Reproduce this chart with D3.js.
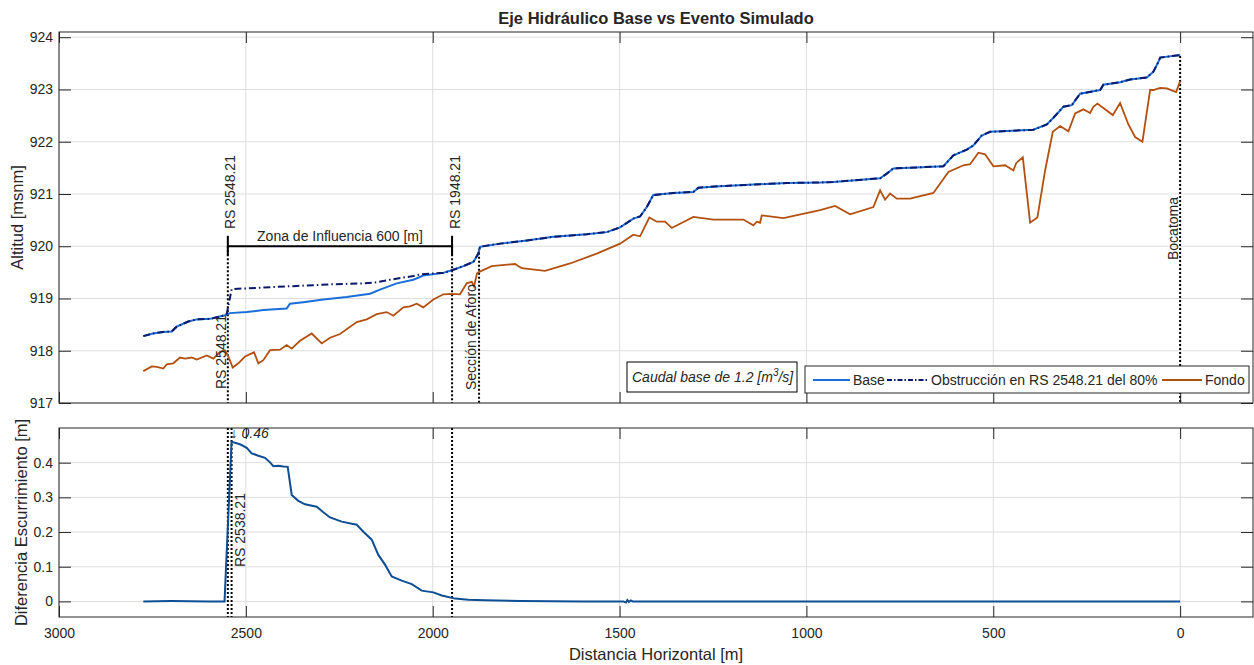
<!DOCTYPE html>
<html><head><meta charset="utf-8">
<script src="https://cdn.jsdelivr.net/npm/d3@7"></script>
<style>
body{margin:0;background:#fff}
svg{display:block}
text{font-family:"Liberation Sans",Arial,sans-serif;fill:#262626}
</style>
</head><body>
<svg id="c" width="1254" height="665"></svg>
<script>
// ---------- DATA ----------
const xTicks = [3000, 2500, 2000, 1500, 1000, 500, 0];
const yTopTicks = [917, 918, 919, 920, 921, 922, 923, 924];
const yBotTicks = [0, 0.1, 0.2, 0.3, 0.4];

const baseDist = [2774.4, 2748.5, 2721.7, 2698.4, 2685.0, 2654.0, 2631.5, 2595.9, 2578.0, 2555.8,
  2542.4, 2497.7, 2453.3, 2390.7, 2381.8, 2346.2, 2292.7, 2230.1, 2167.7, 2141.0,
  2096.3, 2051.8, 2025.1, 1971.5, 1944.8, 1918.0, 1891.3, 1877.9, 1873.3, 1819.8,
  1748.4, 1677.2, 1587.8, 1534.3, 1498.7, 1463.1, 1445.1, 1427.2, 1409.6, 1356.0,
  1302.5, 1289.1, 1231.1, 1141.9, 1052.6, 963.4, 927.8, 802.9, 785.0, 767.3,
  633.5, 606.7, 570.8, 553.2, 530.7, 508.5, 392.6, 356.7, 339.1, 312.3,
  289.8, 267.6, 214.1, 205.3, 160.6, 133.8, 89.1, 71.5, 58.1, 53.5, 0];
const baseVal = [918.28, 918.33, 918.36, 918.37, 918.46, 918.56, 918.60, 918.61, 918.64, 918.68,
  918.72, 918.74, 918.78, 918.81, 918.90, 918.93, 918.98, 919.03, 919.09, 919.17,
  919.29, 919.36, 919.44, 919.49, 919.55, 919.62, 919.70, 919.86, 919.99, 920.05,
  920.11, 920.18, 920.23, 920.27, 920.36, 920.53, 920.57, 920.75, 920.98, 921.02,
  921.04, 921.12, 921.15, 921.18, 921.21, 921.22, 921.23, 921.30, 921.39, 921.49,
  921.53, 921.74, 921.85, 921.93, 922.12, 922.19, 922.23, 922.33, 922.46, 922.67,
  922.70, 922.92, 922.99, 923.09, 923.14, 923.19, 923.23, 923.34, 923.53, 923.61, 923.66];

const obsDist = [2774.4, 2748.5, 2721.7, 2698.4, 2685.0, 2654.0, 2631.5, 2595.9, 2578.0, 2555.8,
  2551.0, 2537.8, 2453.3, 2363.9, 2274.8, 2185.6, 2149.8, 2114.2, 2051.8, 2033.9,
  1980.4, 1971.5, 1944.8, 1918.0, 1891.3, 1877.9, 1873.3, 1819.8,
  1748.4, 1677.2, 1587.8, 1534.3, 1498.7, 1463.1, 1445.1, 1427.2, 1409.6, 1356.0,
  1302.5, 1289.1, 1231.1, 1141.9, 1052.6, 963.4, 927.8, 802.9, 785.0, 767.3,
  633.5, 606.7, 570.8, 553.2, 530.7, 508.5, 392.6, 356.7, 339.1, 312.3,
  289.8, 267.6, 214.1, 205.3, 160.6, 133.8, 89.1, 71.5, 58.1, 53.5, 0];
const obsVal = [918.28, 918.33, 918.36, 918.37, 918.46, 918.56, 918.60, 918.61, 918.64, 918.68,
  918.71, 919.18, 919.21, 919.24, 919.27, 919.29, 919.31, 919.36, 919.43, 919.46,
  919.49, 919.49, 919.55, 919.62, 919.70, 919.86, 919.99, 920.05,
  920.11, 920.18, 920.23, 920.27, 920.36, 920.53, 920.57, 920.75, 920.98, 921.02,
  921.04, 921.12, 921.15, 921.18, 921.21, 921.22, 921.23, 921.30, 921.39, 921.49,
  921.53, 921.74, 921.85, 921.93, 922.12, 922.19, 922.23, 922.33, 922.46, 922.67,
  922.70, 922.92, 922.99, 923.09, 923.14, 923.19, 923.23, 923.34, 923.53, 923.61, 923.66];

const fondoDist = [2774.4, 2751.9, 2738.6, 2720.9, 2711.8, 2694.1, 2676.2, 2662.8, 2644.9, 2631.5,
  2604.7, 2587.0, 2569.2, 2555.8, 2546.9, 2535.2, 2520.2, 2502.2, 2478.2, 2466.6,
  2453.3, 2435.3, 2408.6, 2390.7, 2377.3, 2355.1, 2323.7, 2297.0, 2274.8, 2248.0,
  2203.3, 2176.6, 2149.8, 2123.0, 2105.3, 2078.6, 2060.7, 2042.8, 2025.1, 1998.3,
  1971.5, 1949.1, 1926.9, 1909.0, 1895.6, 1889.4, 1881.4, 1875.2, 1842.1, 1779.7,
  1761.8, 1699.4, 1632.5, 1561.0, 1498.7, 1463.1, 1445.1, 1420.3, 1400.5, 1378.2,
  1360.3, 1302.5, 1249.0, 1168.7, 1141.9, 1132.8, 1124.0, 1119.5, 1061.6, 963.4,
  923.3, 883.1, 820.8, 802.9, 789.5, 776.1, 758.2, 722.6, 660.2, 620.1,
  579.9, 562.0, 539.8, 521.9, 499.6, 468.3, 446.1, 438.9, 421.0, 401.4,
  381.9, 361.3, 340.7, 321.1, 298.9, 281.0, 258.8, 240.9, 232.0, 221.3,
  180.1, 160.6, 138.4, 120.4, 100.9, 80.3, 71.5, 53.5, 35.6, 10.7, 0];
const fondoVal = [917.61, 917.70, 917.69, 917.66, 917.74, 917.76, 917.87, 917.85, 917.87, 917.83,
  917.91, 917.85, 917.98, 918.01, 917.89, 917.68, 917.76, 917.89, 917.97, 917.76,
  917.82, 918.01, 918.02, 918.11, 918.04, 918.19, 918.33, 918.14, 918.25, 918.32,
  918.55, 918.60, 918.70, 918.74, 918.67, 918.83, 918.85, 918.90, 918.83, 918.98,
  919.08, 919.09, 919.08, 919.29, 919.32, 919.23, 919.48, 919.51, 919.62, 919.66,
  919.58, 919.53, 919.67, 919.86, 920.05, 920.22, 920.19, 920.55, 920.47, 920.47,
  920.35, 920.56, 920.51, 920.51, 920.40, 920.47, 920.45, 920.59, 920.54, 920.69,
  920.77, 920.61, 920.75, 921.07, 920.89, 921.01, 920.91, 920.91, 921.02, 921.42,
  921.55, 921.57, 921.79, 921.76, 921.53, 921.55, 921.45, 921.59, 921.70, 920.45,
  920.55, 921.45, 922.19, 922.30, 922.20, 922.54, 922.62, 922.55, 922.67, 922.73,
  922.51, 922.74, 922.33, 922.09, 922.00, 922.99, 922.99, 923.03, 923.02, 922.95, 923.16];

const diffDist = [2774.4, 2700, 2600, 2557.0, 2538.2, 2515.6, 2497.7, 2484.3, 2466.6, 2448.7,
  2435.3, 2426.5, 2413.1, 2399.8, 2388.0, 2377.3, 2359.6, 2341.7, 2310.4, 2292.7,
  2274.8, 2243.4, 2203.3, 2185.6, 2163.2, 2145.5, 2127.6, 2109.7, 2082.9, 2056.1,
  2029.4, 1998.3, 1975.8, 1940.2, 1904.6, 1860.0, 1766, 1600, 1490, 1483,
  1479, 1475, 1470, 1465, 1200, 800, 400, 0];
const diffVal = [0, 0.001, 0, 0, 0.46, 0.453, 0.443, 0.427, 0.420, 0.414,
  0.401, 0.390, 0.391, 0.389, 0.388, 0.307, 0.290, 0.280, 0.273, 0.257,
  0.242, 0.230, 0.221, 0.201, 0.178, 0.134, 0.106, 0.072, 0.060, 0.050,
  0.031, 0.026, 0.017, 0.008, 0.005, 0.003, 0.001, 0, 0, -0.003,
  0.004, -0.002, 0.003, 0, 0, 0, 0, 0];

// vertical markers in top plot: distance, upper elevation, label
const topMarkDist = [2548.21, 1948.21, 1876, 0];
const topMarkTop = [920.0, 920.0, 919.95, 923.64];
const botMarkDist = [2548.21, 2538.21, 1948.21];
const legendLabels = ["Base", "Obstrucción en RS 2548.21 del 80%", "Fondo"];

// ---------- LAYOUT ----------
const svg = d3.select("#c");
const L = 59, R = 1253;
const x = d3.scaleLinear().domain([3000, -195]).range([L, R]);
const yT = d3.scaleLinear().domain([917, 924.1]).range([403, 32]);
const yB = d3.scaleLinear().domain([-0.045, 0.5]).range([617, 428]);
const AX = "#262626", GRID = "#dedede";
const C_BASE = "#1a6fd8", C_OBS = "#0c1a6b", C_FONDO = "#b3500f", C_DIFF = "#0e4e94";

function frame(y, yTicks, top, bot, xLabels, fmt) {
  const g = svg.append("g");
  // grid
  g.selectAll(".gx").data(xTicks).enter().append("line")
    .attr("x1", d => x(d)).attr("x2", d => x(d)).attr("y1", top).attr("y2", bot)
    .attr("stroke", GRID).attr("stroke-width", 1);
  g.selectAll(".gy").data(yTicks).enter().append("line")
    .attr("x1", L).attr("x2", R).attr("y1", d => y(d)).attr("y2", d => y(d))
    .attr("stroke", GRID).attr("stroke-width", 1);
  return g;
}
function axesOver(y, yTicks, top, bot, xLabels, fmt) {
  const g = svg.append("g");
  const st = s => { s.select(".domain").remove(); s.selectAll("line").attr("stroke", AX); s.selectAll("text").attr("font-size", 14).attr("fill", AX).style("font-family", "'Liberation Sans',Arial,sans-serif"); };
  g.append("g").attr("transform", `translate(${L},0)`)
    .call(d3.axisLeft(y).tickValues(yTicks).tickSize(-12).tickPadding(6).tickFormat(fmt)).call(st);
  g.append("g").attr("transform", `translate(${R},0)`)
    .call(d3.axisRight(y).tickValues(yTicks).tickSize(-12).tickFormat("")).call(st);
  g.append("g").attr("transform", `translate(0,${top})`)
    .call(d3.axisTop(x).tickValues(xTicks).tickSize(-11).tickFormat("")).call(st);
  g.append("g").attr("transform", `translate(0,${bot})`)
    .call(d3.axisBottom(x).tickValues(xTicks).tickSize(-11).tickPadding(11)
      .tickFormat(xLabels ? d3.format("d") : "")).call(st);
  g.append("rect").attr("x", L).attr("y", top).attr("width", R - L).attr("height", bot - top)
    .attr("fill", "none").attr("stroke", AX).attr("stroke-width", 1);
}

// ---------- TOP PLOT ----------
frame(yT, yTopTicks, 32, 403);
const lineT = d3.line().x(d => x(d[0])).y(d => yT(d[1]));
const dotted = s => s.attr("stroke", "#000").attr("stroke-width", 2).attr("stroke-dasharray", "2,2");

svg.selectAll(".vmT").data(topMarkDist).enter().append("line")
  .attr("x1", d => x(d)).attr("x2", d => x(d))
  .attr("y1", (d, i) => yT(topMarkTop[i])).attr("y2", 403).call(dotted);

svg.append("path").datum(d3.zip(fondoDist, fondoVal)).attr("d", lineT)
  .attr("fill", "none").attr("stroke", C_FONDO).attr("stroke-width", 1.8);
svg.append("path").datum(d3.zip(baseDist, baseVal)).attr("d", lineT)
  .attr("fill", "none").attr("stroke", C_BASE).attr("stroke-width", 2);
svg.append("path").datum(d3.zip(obsDist, obsVal)).attr("d", lineT)
  .attr("fill", "none").attr("stroke", C_OBS).attr("stroke-width", 2)
  .attr("stroke-dasharray", "7,3,1.5,3");

// bracket "Zona de Influencia"
const bY = yT(920.0);
svg.append("line").attr("x1", x(2548.21)).attr("x2", x(1948.21)).attr("y1", bY).attr("y2", bY)
  .attr("stroke", "#000").attr("stroke-width", 2);
[2548.21, 1948.21].forEach(d => {
  svg.append("line").attr("x1", x(d)).attr("x2", x(d)).attr("y1", yT(920.2)).attr("y2", yT(919.82))
    .attr("stroke", "#000").attr("stroke-width", 2);
});
svg.append("text").attr("x", (x(2548.21) + x(1948.21)) / 2).attr("y", bY - 5)
  .attr("text-anchor", "middle").attr("font-size", 14).attr("fill", "#000").text("Zona de Influencia 600 [m]");

function vtext(px, py, txt, opts) {
  const t = svg.append("text").attr("transform", `translate(${px},${py}) rotate(-90)`)
    .attr("dy", "0.36em").attr("font-size", 14).attr("fill", "#000").text(txt);
  if (opts && opts.italic) t.attr("font-style", "italic");
  return t;
}
vtext(x(2548.21) + 2, 229, "RS 2548.21");
vtext(x(1948.21) + 2.5, 229, "RS 1948.21");
vtext(x(2548.21) - 7, 389, "RS 2548.21");
vtext(x(1876) - 8, 390, "Sección de Aforo");
vtext(x(0) - 7.5, 260, "Bocatoma");

axesOver(yT, yTopTicks, 32, 403, false, d3.format("d"));

// annotation box
svg.append("rect").attr("x", 627).attr("y", 362).attr("width", 170).attr("height", 30)
  .attr("fill", "#fff").attr("stroke", "#000").attr("stroke-width", 1);
const ct = svg.append("text").attr("x", 632).attr("y", 382).attr("font-size", 14)
  .attr("font-style", "italic").attr("fill", "#000");
ct.append("tspan").text("Caudal base de 1.2 [m");
ct.append("tspan").attr("font-size", 10).attr("dy", -6).text("3");
ct.append("tspan").attr("dy", 6).text("/s]");

// legend
const lg = svg.append("g");
lg.append("rect").attr("x", 805).attr("y", 366).attr("width", 444).attr("height", 27)
  .attr("fill", "#fff").attr("stroke", AX).attr("stroke-width", 1);
const legX = [[813, 850, 853], [887, 927, 931], [1162, 1202, 1205]];
const legC = [C_BASE, C_OBS, C_FONDO];
const legDash = [null, "5,2,1.5,2", null];
legendLabels.forEach((lab, i) => {
  const ln = lg.append("line").attr("x1", legX[i][0]).attr("x2", legX[i][1]).attr("y1", 380).attr("y2", 380)
    .attr("stroke", legC[i]).attr("stroke-width", 2);
  if (legDash[i]) ln.attr("stroke-dasharray", legDash[i]);
  lg.append("text").attr("x", legX[i][2]).attr("y", 385).attr("font-size", 14).attr("fill", "#000").text(lab);
});

// ---------- BOTTOM PLOT ----------
frame(yB, yBotTicks, 428, 617);
svg.selectAll(".vmB").data(botMarkDist).enter().append("line")
  .attr("x1", d => x(d)).attr("x2", d => x(d)).attr("y1", 428).attr("y2", 617).call(dotted);
const lineB = d3.line().x(d => x(d[0])).y(d => yB(d[1]));
svg.append("path").datum(d3.zip(diffDist, diffVal)).attr("d", lineB)
  .attr("fill", "none").attr("stroke", C_DIFF).attr("stroke-width", 2);
vtext(x(2538.21) + 8.5, 567, "RS 2538.21");
svg.append("text").attr("x", x(2538.21) - 1).attr("y", 438).attr("font-size", 14)
  .attr("font-style", "italic").attr("fill", "#000").text("\u2193 0.46");
axesOver(yB, yBotTicks, 428, 617, true, d3.format(".1~f"));

// ---------- TITLES ----------
svg.append("text").attr("x", (L + R) / 2).attr("y", 24).attr("text-anchor", "middle")
  .attr("font-size", 16.5).attr("font-weight", "bold").attr("fill", "#000")
  .text("Eje Hidráulico Base vs Evento Simulado");
svg.append("text").attr("x", (L + R) / 2).attr("y", 660).attr("text-anchor", "middle")
  .attr("font-size", 16.5).attr("fill", AX).text("Distancia Horizontal [m]");
svg.append("text").attr("transform", `translate(23,${(32 + 403) / 2}) rotate(-90)`)
  .attr("text-anchor", "middle").attr("font-size", 16.5).attr("fill", AX).text("Altitud [msnm]");
svg.append("text").attr("transform", `translate(27,${(428 + 617) / 2}) rotate(-90)`)
  .attr("text-anchor", "middle").attr("font-size", 16.5).attr("fill", AX).text("Diferencia Escurrimiento [m]");
</script>
</body></html>
